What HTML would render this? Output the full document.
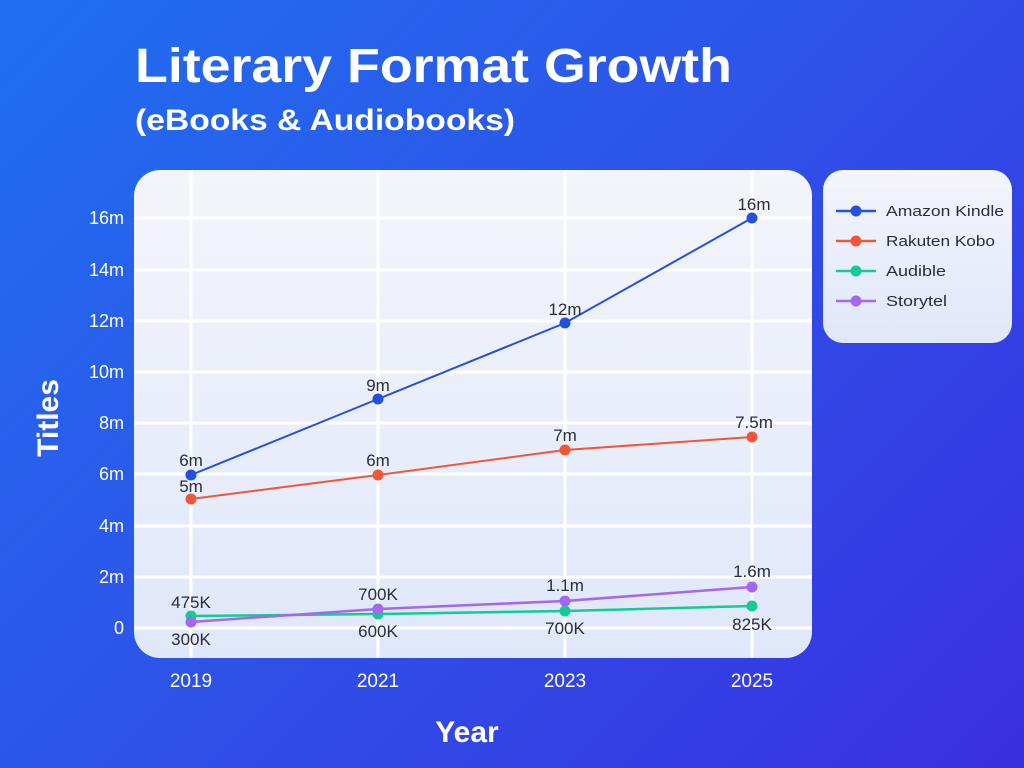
<!DOCTYPE html>
<html><head><meta charset="utf-8"><style>
html,body{margin:0;padding:0;width:1024px;height:768px;overflow:hidden}
body{background:linear-gradient(135deg,#1f6ff0 0%,#2d55e8 45%,#3a2fe2 100%);font-family:"Liberation Sans",sans-serif}
</style></head><body>
<svg width="1024" height="768" viewBox="0 0 1024 768" xmlns="http://www.w3.org/2000/svg" style="position:absolute;left:0;top:0">
<defs>
<linearGradient id="pg" x1="0" y1="0" x2="0" y2="1"><stop offset="0" stop-color="#f4f5fa"/><stop offset="1" stop-color="#dfe7fa"/></linearGradient>
</defs>
<text x="135" y="82" fill="#fff" font-size="48" font-weight="bold" textLength="597" lengthAdjust="spacingAndGlyphs">Literary Format Growth</text>
<text x="135" y="130" fill="#fff" font-size="30" font-weight="bold" textLength="380" lengthAdjust="spacingAndGlyphs">(eBooks &amp; Audiobooks)</text>
<rect x="134" y="170" width="678" height="488" rx="26" fill="url(#pg)"/>
<g stroke="#fff" stroke-width="3">
<line x1="134" x2="812" y1="628" y2="628"/><line x1="134" x2="812" y1="577" y2="577"/><line x1="134" x2="812" y1="526" y2="526"/><line x1="134" x2="812" y1="474" y2="474"/><line x1="134" x2="812" y1="423" y2="423"/><line x1="134" x2="812" y1="372" y2="372"/><line x1="134" x2="812" y1="321" y2="321"/><line x1="134" x2="812" y1="270" y2="270"/><line x1="134" x2="812" y1="218" y2="218"/>
<line x1="191" x2="191" y1="170" y2="658"/><line x1="378" x2="378" y1="170" y2="658"/><line x1="565" x2="565" y1="170" y2="658"/><line x1="752" x2="752" y1="170" y2="658"/>
</g>
<g fill="#fff" font-size="18" text-anchor="end">
<text x="124" y="224">16m</text><text x="124" y="276">14m</text><text x="124" y="327">12m</text><text x="124" y="378">10m</text><text x="124" y="429">8m</text><text x="124" y="480">6m</text><text x="124" y="532">4m</text><text x="124" y="583">2m</text><text x="124" y="634">0</text>
</g>
<g fill="#fff" font-size="19" text-anchor="middle">
<text x="191" y="687">2019</text><text x="378" y="687">2021</text><text x="565" y="687">2023</text><text x="752" y="687">2025</text>
</g>
<text x="467" y="742" fill="#fff" font-size="30" font-weight="bold" text-anchor="middle">Year</text>
<text transform="translate(58,418) rotate(-90)" fill="#fff" font-size="30" font-weight="bold" text-anchor="middle">Titles</text>
<polyline points="191,475 378,399 565,323 752,218" fill="none" stroke="#2450de" stroke-width="2"/>
<polyline points="191,499 378,475 565,450 752,437" fill="none" stroke="#f05638" stroke-width="2"/>
<polyline points="191,616 378,614 565,611 752,606" fill="none" stroke="#12cc94" stroke-width="2.5"/>
<polyline points="191,622 378,609 565,601 752,587" fill="none" stroke="#a566f0" stroke-width="2.5"/>
<g fill="#2450de"><circle cx="191" cy="475" r="5.5"/><circle cx="378" cy="399" r="5.5"/><circle cx="565" cy="323" r="5.5"/><circle cx="752" cy="218" r="5.5"/></g>
<g fill="#f05638"><circle cx="191" cy="499" r="5.5"/><circle cx="378" cy="475" r="5.5"/><circle cx="565" cy="450" r="5.5"/><circle cx="752" cy="437" r="5.5"/></g>
<g fill="#12cc94"><circle cx="191" cy="616" r="5.5"/><circle cx="378" cy="614" r="5.5"/><circle cx="565" cy="611" r="5.5"/><circle cx="752" cy="606" r="5.5"/></g>
<g fill="#a566f0"><circle cx="191" cy="622" r="5.5"/><circle cx="378" cy="609" r="5.5"/><circle cx="565" cy="601" r="5.5"/><circle cx="752" cy="587" r="5.5"/></g>
<g fill="#2a2d3a" font-size="17" text-anchor="middle">
<text x="191" y="466">6m</text><text x="378" y="391">9m</text><text x="565" y="315">12m</text><text x="754" y="210">16m</text>
<text x="191" y="492">5m</text><text x="378" y="466">6m</text><text x="565" y="441">7m</text><text x="754" y="428">7.5m</text>
<text x="191" y="608">475K</text><text x="378" y="600">700K</text><text x="565" y="591">1.1m</text><text x="752" y="577">1.6m</text>
<text x="191" y="645">300K</text><text x="378" y="637">600K</text><text x="565" y="634">700K</text><text x="752" y="630">825K</text>
</g>
<rect x="823" y="170" width="189" height="173" rx="20" fill="url(#pg)"/>
<g stroke-width="2.5">
<line x1="836" x2="876" y1="211" y2="211" stroke="#2450de"/><circle cx="856" cy="211" r="5.5" fill="#2450de"/>
<line x1="836" x2="876" y1="241" y2="241" stroke="#f05638"/><circle cx="856" cy="241" r="5.5" fill="#f05638"/>
<line x1="836" x2="876" y1="271" y2="271" stroke="#12cc94"/><circle cx="856" cy="271" r="5.5" fill="#12cc94"/>
<line x1="836" x2="876" y1="301" y2="301" stroke="#a566f0"/><circle cx="856" cy="301" r="5.5" fill="#a566f0"/>
</g>
<g fill="#2a2d3a" font-size="15">
<text x="886" y="216" textLength="118" lengthAdjust="spacingAndGlyphs">Amazon Kindle</text><text x="886" y="246" textLength="109" lengthAdjust="spacingAndGlyphs">Rakuten Kobo</text><text x="886" y="276" textLength="60" lengthAdjust="spacingAndGlyphs">Audible</text><text x="886" y="306" textLength="61" lengthAdjust="spacingAndGlyphs">Storytel</text>
</g>
</svg>
</body></html>
